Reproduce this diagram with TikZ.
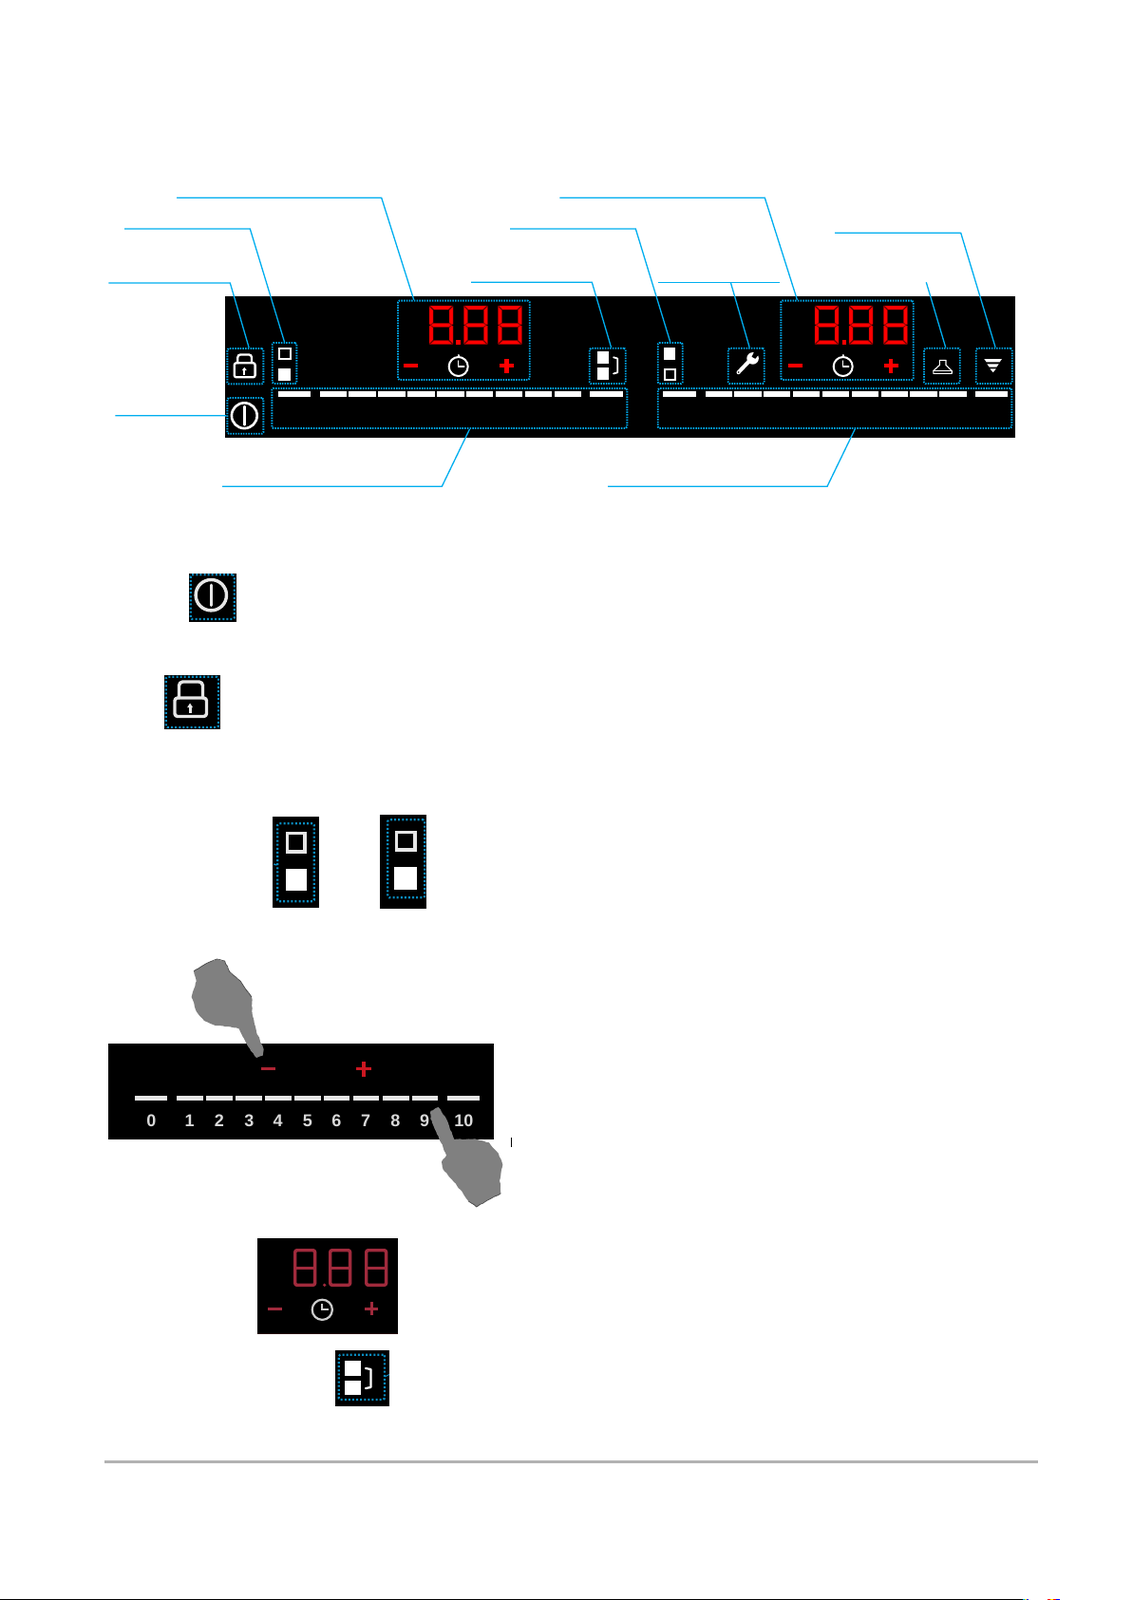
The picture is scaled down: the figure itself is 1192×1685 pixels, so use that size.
\documentclass[tikz,border=0pt]{standalone}
\usepackage{fontspec}
\setmainfont{Liberation Sans}
\usetikzlibrary{fit,calc,decorations.pathmorphing}
\definecolor{leadc}{HTML}{00AEEF}
\definecolor{dotc}{HTML}{00A8EA}
\definecolor{dotd}{HTML}{0A8CC0}
\definecolor{segdark}{HTML}{8C0000}
\definecolor{photored}{HTML}{A02A3C}
\definecolor{handc}{HTML}{808080}
\definecolor{softw}{HTML}{E6E6E6}
\tikzset{
  leader/.style={draw=leadc,line width=1.3pt,line join=miter},
  dotbox/.style={draw=dotc,line width=1.9pt,dash pattern=on 1.5pt off 1.2pt,rounded corners=1.5pt,inner sep=0pt,fill=none},
  dotboxd/.style={dotbox,draw=dotd,line width=2.2pt,dash pattern=on 2pt off 2.1pt},
  blackbg/.style={fill=black,draw=none},
  icon/.style={draw=white,line cap=round,line join=round},
  soft/.style={draw=softw,line cap=round,line join=round},
  seg/.style={fill=red,draw=segdark,line width=.45pt,line join=miter},
  bar/.style={fill=white,draw=none},
  photobar/.style={fill=white!90!black,draw=none},
  photonum/.style={text=white!85!black,font=\fontsize{18}{18}\selectfont\bfseries,inner sep=0pt,anchor=center},
  hand/.style={fill=handc,draw=none,decorate,decoration={random steps,segment length=3pt,amplitude=.5pt}},
  handedge/.style={draw=black!70,line width=.7pt,decorate,decoration={random steps,segment length=3pt,amplitude=.5pt}},
  digit/.pic={
    \path[seg] (.6,0)--(24.4,0)--(20.2,4)--(4.8,4)--cycle;
    \path[seg] (0,.6)--(4,4.6)--(4,17.8)--(1.8,20)--(0,19.6)--cycle;
    \path[seg] (25,.6)--(21,4.6)--(21,17.8)--(23.2,20)--(25,19.6)--cycle;
    \path[seg] (1.2,20.3)--(4.3,18.4)--(20.7,18.4)--(23.8,20.3)--(20.7,22.4)--(4.3,22.4)--cycle;
    \path[seg] (0,21.2)--(1.8,20.8)--(4,23)--(4,36.2)--(0,40.1)--cycle;
    \path[seg] (25,21.2)--(23.2,20.8)--(21,23)--(21,36.2)--(25,40.1)--cycle;
    \path[seg] (.6,40.7)--(4.8,36.7)--(20.2,36.7)--(24.4,40.7)--cycle;
  },
  photodigit/.pic={
    \draw[photored,line width=3.4pt,rounded corners=2pt] (1.7,1.7) rectangle (22.6,38.3);
    \draw[photored,line width=3pt] (1.7,20)--(22.6,20);
  },
  clockicon/.pic={
    \draw[icon,line width=2pt] (0,0) circle (10);
    \draw[icon,line width=2pt] (0,-11)--(0,-12);
    \draw[icon,line width=1.5pt] (0,-6)--(0,0)--(6,0);
  },
}
\begin{document}
\begin{tikzpicture}[x=1pt,y=-1pt]
\useasboundingbox (0,0) rectangle (1192,1685);
\fill[white] (0,0) rectangle (1192,1685);

% ---------- main panel ----------
\fill[blackbg] (237,312) rectangle (1069,460.7);

% digits
\pic at (452,322) {digit};
\pic at (488.3,322) {digit};
\pic at (524.3,322) {digit};
\fill[red] (480.3,357.7) rectangle (485.3,362.7);
\pic at (858,322) {digit};
\pic at (894,322) {digit};
\pic at (930.3,322) {digit};
\fill[red] (886.7,357.7) rectangle (891.3,362.7);

% minus, plus, clock (left)
\fill[red] (425,382.7) rectangle (440,386.7);
\fill[red] (531.3,377.7) rectangle (535.5,392.7);
\fill[red] (526,383.3) rectangle (541,387.3);
\pic at (482.7,386) {clockicon};
% minus, plus, clock (right)
\fill[red] (829.7,382.7) rectangle (845,386.7);
\fill[red] (936.2,377.7) rectangle (940.4,392.7);
\fill[red] (930.8,383.3) rectangle (945.8,387.3);
\pic at (887.7,386) {clockicon};

% slider bars left
\foreach \a/\b in {293/327,337.3/365,367.3/396,398.3/426.7,429.3/458,460.3/489,491/519.3,522/550.3,552.7/581,583.7/612.3,621/655.7}
  \fill[bar] (\a,412.3) rectangle (\b,418);
% slider bars right
\foreach \a/\b in {698.3/733,743/770.7,773/801.7,804/832.3,835/863.3,866/894.3,896.7/925.3,927.7/956,958.3/987,989.3/1018,1026.7/1061.3}
  \fill[bar] (\a,412.3) rectangle (\b,418);

% lock icon
\draw[icon,line width=2.3pt,rounded corners=2pt] (246.8,382.3) rectangle (268.6,397.3);
\draw[icon,line width=2.3pt,rounded corners=3pt] (250.3,382.3)--(250.3,373.4)--(265,373.4)--(265,382.3);
\fill[white] (256.2,389.5) rectangle (258.4,394.5);
\fill[white] (254.9,390)--(257.3,386.8)--(259.7,390)--cycle;

% power icon
\draw[icon,line width=2.6pt] (257.3,437.7) circle (13.4);
\draw[icon,line width=2.4pt] (257.3,428)--(257.3,447.5);

% switch left
\draw[draw=white,line width=1.9pt] (294.2,366.6) rectangle (305.8,377.8);
\fill[white] (293,388) rectangle (306,401);
% switch right
\fill[white] (699,366) rectangle (711,379);
\draw[draw=white,line width=1.9pt] (699.9,388.9) rectangle (710.8,400.1);

% bridge
\fill[white] (629,370) rectangle (641.3,382.7);
\fill[white] (629,387) rectangle (641.3,400);
\draw[icon,line width=1.8pt] (646,376.3)--(650.2,377.5)--(650.2,392.3)--(646,393.5);

% wrench
\draw[icon,line width=4pt] (777.5,392.2)--(790.5,378.5);
\fill[white] (792.6,377.4) circle (6.3);
\fill[black] (794.5,369.8)--(799.3,373)--(795.2,377.8)--(791.6,375.7)--cycle;
\fill[black] (777.7,392) circle (.8);

% hood
\draw[icon,line width=1.1pt] (989.3,379.3)--(996,379.3)--(996,384.5)--(1002.2,390.5)--(1002.2,393.3)--(982.8,393.3)--(982.8,390.5)--(989.3,384.5)--cycle;
\draw[icon,line width=1.1pt] (982.8,390.5)--(1002.2,390.5);

% filter
\fill[white] (1036.3,378)--(1055,378)--(1052.6,381.3)--(1038.7,381.3)--cycle;
\fill[white] (1039.3,383.3)--(1051.7,383.3)--(1049.3,386.7)--(1041.7,386.7)--cycle;
\fill[white] (1042.4,388.3)--(1048.8,388.3)--(1045.7,392.2)--cycle;

% dotted boxes
\node (lockbox) [dotbox,fit={(239.3,367)(277.3,404.3)}] {};
\node (powerbox) [dotbox,fit={(239.3,419)(277.3,456.7)}] {};
\node (switchl) [dotbox,fit={(286.7,361)(312.3,404)}] {};
\node (displ) [dotbox,fit={(419,316.7)(557.7,400)}] {};
\node (bridgebox) [dotbox,fit={(620.7,366.7)(658.7,404)}] {};
\node (sliderl) [dotbox,fit={(286.3,409)(660.3,451)}] {};
\node (switchr) [dotbox,fit={(692.7,361)(718.7,404)}] {};
\node (wrenchbox) [dotbox,fit={(766.7,366.7)(804.7,404)}] {};
\node (dispr) [dotbox,fit={(822.3,316.7)(961.7,400)}] {};
\node (hoodbox) [dotbox,fit={(973,366.7)(1010.7,404)}] {};
\node (filterbox) [dotbox,fit={(1027.7,366.7)(1065.7,404)}] {};
\node (sliderr) [dotbox,fit={(692.7,409)(1065.3,451)}] {};

% leaders
\coordinate (l1) at (186,208.3); \coordinate (k1) at (401.7,208.3);
\draw[leader] (l1)--(k1)--(displ.141.5);
\coordinate (l2) at (131,241); \coordinate (k2) at (263.3,241);
\draw[leader] (l2)--(k2)--(switchl.90);
\coordinate (l3) at (114.3,298); \coordinate (k3) at (242.3,298);
\draw[leader] (l3)--(k3)--(lockbox.79.8);
\coordinate (l4) at (121.3,437.7);
\draw[leader] (l4)--(powerbox.180);
\coordinate (l5) at (234,512.3); \coordinate (k5) at (465.3,512.3);
\draw[leader] (l5)--(k5)--(sliderl.-46.4);
\coordinate (l6) at (589.3,208.3); \coordinate (k6) at (805.3,208.3);
\draw[leader] (l6)--(k6)--(dispr.141.7);
\coordinate (l7) at (537,241); \coordinate (k7) at (669.3,241);
\draw[leader] (l7)--(k7)--(switchr.90);
\coordinate (l8) at (496,297.3); \coordinate (k8) at (623.3,297.3);
\draw[leader] (l8)--(k8)--(bridgebox.79.1);
\coordinate (l9) at (640,512.3); \coordinate (k9) at (871,512.3);
\draw[leader] (l9)--(k9)--(sliderr.-46.8);
\coordinate (l10a) at (693,297.3); \coordinate (l10b) at (820.7,297.3); \coordinate (k10) at (769.3,297.3);
\draw[leader] (l10a)--(l10b);
\draw[leader] (k10)--(wrenchbox.80);
\coordinate (l11) at (975.3,297.3);
\draw[leader] (l11)--(hoodbox.79.5);
\coordinate (l12) at (879,245.3); \coordinate (k12) at (1011.7,245.3);
\draw[leader] (l12)--(k12)--(filterbox.86);

% ---------- power sample ----------
\fill[blackbg] (199,604) rectangle (248.7,654.7);
\node (powersmall) [dotboxd,fit={(200.7,605.3)(246.7,652)}] {};
\draw[soft,line width=3.4pt] (222.3,626.7) circle (16.2);
\draw[soft,line width=3pt] (222.3,616)--(222.3,637.5);

% ---------- lock sample ----------
\fill[blackbg] (173,711) rectangle (232,767.7);
\node (locksmall) [dotboxd,fit={(174.7,712.7)(230,766)}] {};
\draw[soft,line width=3.4pt,rounded corners=3pt] (184,735) rectangle (217.5,754.5);
\draw[soft,line width=3.4pt,rounded corners=4pt] (188.5,735)--(188.5,718)--(213.5,718)--(213.5,735);
\fill[softw] (198.6,744) rectangle (201.6,750.5);
\fill[softw] (197.2,745)--(200.1,740.5)--(203,745)--cycle;

% ---------- switch samples ----------
\fill[blackbg] (287,860) rectangle (336,956);
\node (switcha) [dotboxd,fit={(292.3,867.3)(330.7,949.3)}] {};
\draw[soft,line width=3.4pt,line join=miter] (302.7,877.7) rectangle (321,897);
\fill[white] (301,915.3) rectangle (322.7,938.3);
\draw[dotd,line width=1.4pt] (288.3,910)--(291.5,911);

\fill[blackbg] (400,858) rectangle (449,957);
\node (switchb) [dotboxd,fit={(408.3,863.3)(447.3,945.3)}] {};
\draw[soft,line width=3.4pt,line join=miter] (417.4,876.4) rectangle (437,895);
\fill[white] (415.3,912.7) rectangle (438.7,936.7);

% ---------- slider sample ----------
\fill[blackbg] (114,1099) rectangle (520,1199.7);
\fill[photored!85!red] (275,1123.6) rectangle (290,1127.4);
\fill[photored!55!red] (381.3,1118) rectangle (384.7,1133.5);
\fill[photored!55!red] (375,1124) rectangle (391,1127.4);
\foreach \a/\b in {125/228,259/341,351/434,445/527,537/620,631/714,722/805,815/898,908/993,1001/1084,1114/1216}
  \fill[photobar] ({100+\a/3},1153.7) rectangle ({100+\b/3},1159);
\foreach \n/\t/\a in {n0/0/178,n1/1/299,n2/2/393,n3/3/487,n4/4/578,n5/5/672,n6/6/763,n7/7/855,n8/8/949,n9/9/1041,n10/10/1165}
  \node (\n) [photonum] at ({100+\a/3},1180) {\t};

% hands
\begin{scope}[shift={(100,990)},scale=1/3]
\path[hand] (385,60)--(410,66)--(425,100)--(460,130)--(495,180)--(497,230)--(510,290)--(533,345)--(530,365)--(510,372)--(492,350)--(455,280)--(420,273)--(380,270)--(345,255)--(320,225)--(305,180)--(320,130)--(312,98)--(350,75)--cycle;
\draw[handedge] (312,98)--(350,75)--(385,60)--(410,66)--(425,100)--(460,130)--(495,180);
\path[hand] (1060,540)--(1085,528)--(1110,565)--(1135,630)--(1200,628)--(1245,640)--(1275,675)--(1288,710)--(1278,760)--(1282,800)--(1240,822)--(1205,843)--(1180,825)--(1140,770)--(1100,725)--(1095,700)--(1110,680)--(1085,620)--(1060,565)--cycle;
\draw[handedge] (1282,800)--(1240,822)--(1205,843)--(1180,825);
\end{scope}
\draw[black,line width=.8pt] (538.3,1198)--(538.3,1208);

% ---------- display sample ----------
\fill[black!85!red] (271,1304) rectangle (419,1405);
\fill[blackbg] (271,1304) rectangle (419,1404);
\pic at (309,1315) {photodigit};
\pic at (346,1315) {photodigit};
\pic at (384,1315) {photodigit};
\fill[photored] (341.7,1353.3) circle (1.8);
\fill[photored] (281.5,1376.8) rectangle (296.5,1380.2);
\fill[photored] (389.5,1371) rectangle (392.8,1385);
\fill[photored] (384,1376.6) rectangle (398.3,1379.9);
\draw[white!80!black,line width=2.2pt] (339.3,1379.3) circle (10.6);
\draw[white!80!black,line width=1.8pt] (339.3,1373)--(339.3,1379.3)--(345.5,1379.3);

% ---------- bridge sample ----------
\fill[blackbg] (353,1422) rectangle (410,1481);
\node (bridgesmall) [dotboxd,fit={(356.7,1426.7)(405,1474)}] {};
\fill[white] (363,1432.7) rectangle (380,1448.7);
\fill[white] (363,1453.7) rectangle (380,1469.3);
\draw[icon,line width=2.2pt] (385,1441)--(390.5,1442)--(390.5,1461)--(385,1462);
\draw[dotd,line width=1pt] (405,1450)--(410,1447.5);

% ---------- footer ----------
\fill[black!30] (110,1538) rectangle (1093,1540.7);
\fill[black] (0,1684) rectangle (1077.3,1685);
\fill[cyan] (1077.3,1684) rectangle (1079,1685);
\fill[yellow] (1079,1684) rectangle (1081,1685);
\fill[blue] (1081,1684) rectangle (1083,1685);
\fill[red] (1103,1684) rectangle (1106,1685);
\fill[yellow] (1106,1684) rectangle (1109,1685);
\fill[red] (1109,1684) rectangle (1112,1685);
\fill[blue] (1112,1684) rectangle (1116,1685);
\end{tikzpicture}
\end{document}
